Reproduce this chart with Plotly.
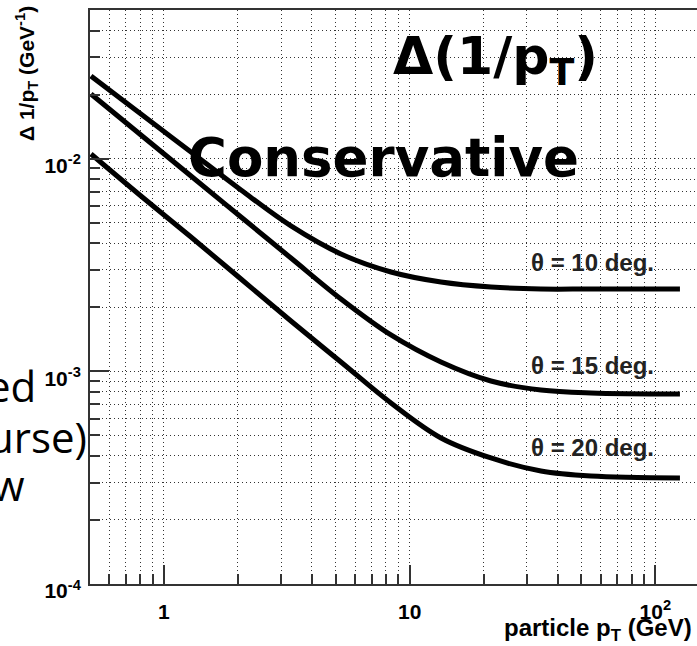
import numpy as np
import plotly.graph_objects as go

# ---- data ----
pt = [0.5046, 0.8059, 1.288, 2.058, 3.287, 5.252, 8.391, 13.41, 21.42, 34.22, 54.68, 125.9]
res_10 = [0.02446, 0.01622, 0.01075, 0.007121, 0.004825, 0.003561, 0.002931, 0.002630,
          0.002491, 0.002438, 0.002438, 0.002438]
res_15 = [0.02014, 0.01292, 0.008290, 0.005316, 0.003410, 0.002188, 0.001482, 0.001106,
          0.0009006, 0.0008173, 0.0007912, 0.0007827]
res_20 = [0.01052, 0.006675, 0.004281, 0.002717, 0.001725, 0.001106, 0.0007099, 0.0004860,
          0.0003913, 0.0003400, 0.0003219, 0.0003152]

curve_labels = ["θ = 10 deg.", "θ = 15 deg.", "θ = 20 deg."]

x_major = [1, 10, 100]
x_major_text = ["1", "10", "10<sup>2</sup>"]
x_minor = [0.6, 0.7, 0.8, 0.9, 2, 3, 4, 5, 6, 7, 8, 9, 20, 30, 40, 50, 60, 70, 80, 90, 200]
y_major = [1e-4, 1e-3, 1e-2]
y_major_text = ["10<sup>-4</sup>", "10<sup>-3</sup>", "10<sup>-2</sup>"]
y_minor = [2e-4, 3e-4, 4e-4, 5e-4, 6e-4, 7e-4, 8e-4, 9e-4,
           2e-3, 3e-3, 4e-3, 5e-3, 6e-3, 7e-3, 8e-3, 9e-3,
           2e-2, 3e-2, 4e-2]

# ---- layout geometry ----
W, H = 697, 646
L, R, T, B = 90, 0, 10, 62
PW, PH = W - L - R, H - T - B


def px(xp):
    return (xp - L) / PW


def py(yp):
    return (H - B - yp) / PH


fig = go.Figure()
for ys in [res_10, res_15, res_20]:
    fig.add_trace(go.Scatter(x=pt, y=ys, mode="lines",
                             line=dict(color="black", width=5, shape="spline", smoothing=1.0),
                             hoverinfo="skip"))

grid_col = "#333333"
axis_col = "#333333"
tick_font = dict(family="Liberation Sans", size=21, color="black", weight="bold")

fig.update_xaxes(type="log", range=[np.log10(0.5), np.log10(0.5) + PW / 245.7],
                 showline=True, linecolor=axis_col, linewidth=2, mirror=True,
                 ticks="inside", ticklen=19, tickwidth=2, tickcolor=axis_col,
                 tickmode="array", tickvals=x_major, ticktext=x_major_text, tickfont=tick_font,
                 ticklabelstandoff=8,
                 showgrid=True, gridcolor=grid_col, gridwidth=1, griddash="1px,3px",
                 zeroline=False,
                 minor=dict(tickmode="array", tickvals=x_minor, ticks="inside", ticklen=10,
                            tickwidth=2, tickcolor=axis_col, showgrid=True, gridcolor=grid_col,
                            gridwidth=1, griddash="1px,3px"))
fig.update_yaxes(type="log", range=[-4, np.log10(0.05)],
                 showline=True, linecolor=axis_col, linewidth=2, mirror=False,
                 ticks="inside", ticklen=19, tickwidth=2, tickcolor=axis_col,
                 tickmode="array", tickvals=y_major, ticktext=y_major_text, tickfont=tick_font,
                 ticklabelshift=7, ticklabelstandoff=3,
                 showgrid=True, gridcolor=grid_col, gridwidth=1, griddash="1px,3px",
                 zeroline=False,
                 minor=dict(tickmode="array", tickvals=y_minor, ticks="inside", ticklen=10,
                            tickwidth=2, tickcolor=axis_col, showgrid=True, gridcolor=grid_col,
                            gridwidth=1, griddash="1px,3px"))

ann = []
# curve labels
for lab, yp in zip(curve_labels, [262, 365, 447]):
    ann.append(dict(x=px(592), y=py(yp), xref="paper", yref="paper", text=lab, showarrow=False,
                    xanchor="center", yanchor="middle",
                    font=dict(family="Liberation Sans", size=24, color="#222222", weight="bold")))
# big overlay titles
ann.append(dict(x=px(495), y=py(60), xref="paper", yref="paper", text="<b>Δ(1/p<sub>T</sub>)</b>",
                showarrow=False, xanchor="center", yanchor="middle",
                font=dict(family="DejaVu Sans", size=52, color="black")))
ann.append(dict(x=px(383), y=py(157), xref="paper", yref="paper", text="<b>Conservative</b>",
                showarrow=False, xanchor="center", yanchor="middle",
                font=dict(family="DejaVu Sans", size=53, color="black")))
# axis titles
ann.append(dict(x=px(694), y=py(629), xref="paper", yref="paper",
                text="particle p<sub>T</sub> (GeV)", showarrow=False,
                xanchor="right", yanchor="middle",
                font=dict(family="Liberation Sans", size=24, color="black", weight="bold")))
ann.append(dict(x=px(27), y=py(74), xref="paper", yref="paper",
                text="Δ 1/p<sub>T</sub> (GeV<sup>-1</sup>)", showarrow=False, textangle=-90,
                xanchor="center", yanchor="middle",
                font=dict(family="Liberation Sans", size=21, color="black", weight="bold")))
# clipped slide text on the left
for txt, xr, yc in [("ed", 38, 386), ("urse)", 89, 436), ("w", 27, 484)]:
    ann.append(dict(x=px(xr), y=py(yc), xref="paper", yref="paper", text=txt, showarrow=False,
                    xanchor="right", yanchor="middle",
                    font=dict(family="Open Sans", size=42, color="black")))

fig.update_layout(width=W, height=H, margin=dict(l=L, r=R, t=T, b=B),
                  plot_bgcolor="white", paper_bgcolor="white", showlegend=False,
                  annotations=ann)

fig.write_html("out.html")
